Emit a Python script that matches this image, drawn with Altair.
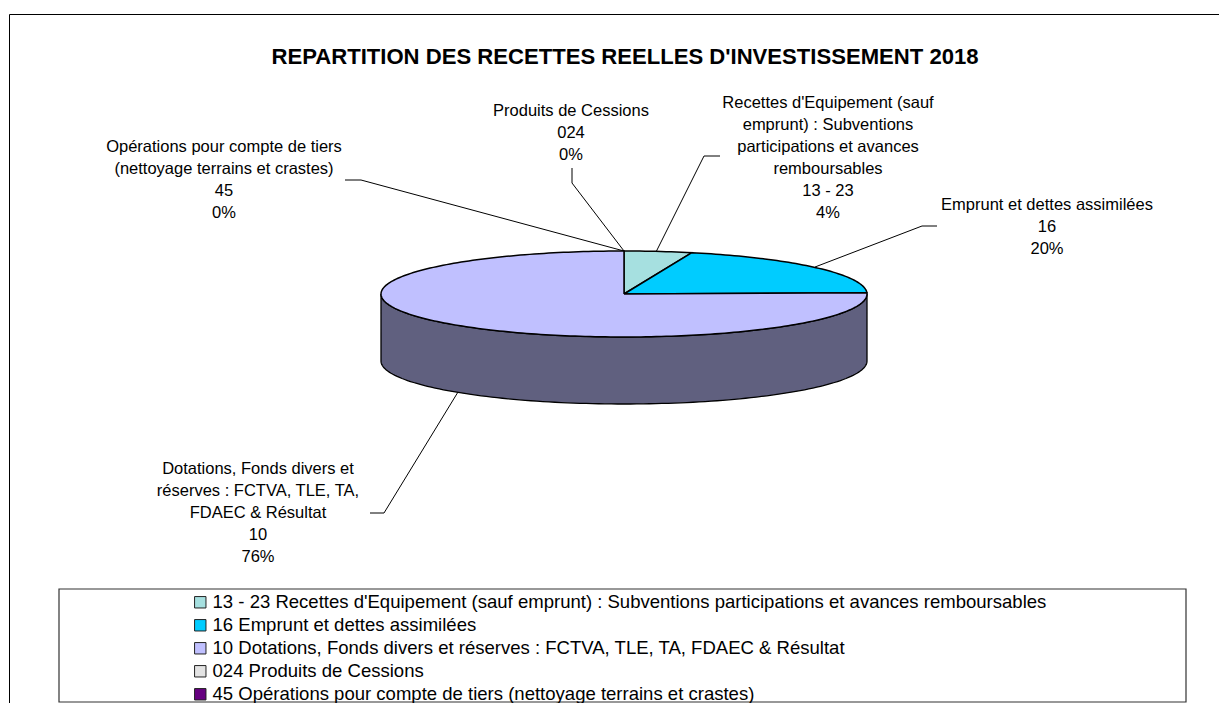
import math
import altair as alt
import pandas as pd

# ---- chart values -------------------------------------------------------
codes = ["13 - 23", "16", "10", "024", "45"]
names = [
    "Recettes d'Equipement (sauf emprunt) : Subventions participations et avances remboursables",
    "Emprunt et dettes assimilées",
    "Dotations, Fonds divers et réserves : FCTVA, TLE, TA, FDAEC & Résultat",
    "Produits de Cessions",
    "Opérations pour compte de tiers (nettoyage terrains et crastes)",
]
shares = [4.5, 20, 75.5, 0, 0]
colors = ["#A6E0E0", "#00CCFF", "#C0C0FF", "#E3E3E3", "#660080"]
side_color = "#60607F"
legend_labels = [f"{c} {n}" for c, n in zip(codes, names)]

title_text = "REPARTITION DES RECETTES REELLES D'INVESTISSEMENT 2018"
callouts = [
    (["Recettes d'Equipement (sauf", "emprunt) : Subventions", "participations et avances", "remboursables", "13 - 23", "4%"], 828, 95),
    (["Emprunt et dettes assimilées", "16", "20%"], 1047, 197),
    (["Dotations, Fonds divers et", "réserves : FCTVA, TLE, TA,", "FDAEC & Résultat", "10", "76%"], 258, 461),
    (["Produits de Cessions", "024", "0%"], 571, 103),
    (["Opérations pour compte de tiers", "(nettoyage terrains et crastes)", "45", "0%"], 224, 139),
]
leaders = [
    [(656, 252), (704, 156), (720, 156)],
    [(815, 267), (922, 226), (937, 226)],
    [(458, 392), (384, 513), (370, 513)],
    [(624, 251), (572, 183), (572, 168)],
    [(624, 251), (361, 180), (345, 180)],
]

# ---- scales: the pie is a unit circle squeezed by its x and y ranges ------
W, H = 1211, 695
CX, CY, RX, RY, DEPTH = 624 - 8, 294 - 8, 243, 43, 67
x_scale = alt.Scale(domain=[-1, 1], range=[CX - RX, CX + RX])
y_scale = alt.Scale(domain=[-1, 1], range=[CY + RY, CY - RY])
AX = dict(axis=None)

rows = []
start = 0.0
for i, (lab, s) in enumerate(zip(legend_labels, shares)):
    if s > 0:
        a0, a1 = start / 100 * 2 * math.pi, (start + s) / 100 * 2 * math.pi
        n = max(2, int(s * 3))
        rows.append(dict(slice=lab, k=0, x=0.0, y=0.0))
        for j in range(n + 1):
            a = a0 + (a1 - a0) * j / n
            rows.append(dict(slice=lab, k=j + 1, x=math.sin(a), y=math.cos(a)))
        rows.append(dict(slice=lab, k=n + 2, x=0.0, y=0.0))
    start += s
pie = pd.DataFrame(rows)

side_rows = []
d = DEPTH / RY
steps = 120
for j in range(steps + 1):
    a = math.pi * j / steps
    side_rows.append(dict(k=j, x=math.cos(a), y=-math.sin(a)))
for j in range(steps + 1):
    a = math.pi * (1 - j / steps)
    side_rows.append(dict(k=steps + 1 + j, x=math.cos(a), y=-math.sin(a) - d))
side_rows.append(dict(k=2 * steps + 2, x=1.0, y=0.0))
side = pd.DataFrame(side_rows)

ff = "Liberation Sans"

side_layer = alt.Chart(side).mark_line(fill=side_color, stroke="black", strokeWidth=1.3).encode(
    x=alt.X("x:Q", scale=x_scale, **AX), y=alt.Y("y:Q", scale=y_scale, **AX), order="k:Q")

slices = alt.Chart(pie).mark_line(stroke="black", strokeWidth=1.5, strokeJoin="miter").encode(
    x=alt.X("x:Q", scale=x_scale, **AX),
    y=alt.Y("y:Q", scale=y_scale, **AX),
    order="k:Q",
    detail="slice:N",
    fill=alt.Fill("slice:N", sort=None,
                  scale=alt.Scale(domain=legend_labels, range=colors),
                  legend=alt.Legend(
                      title=None, orient="none", legendX=183, legendY=585,
                      symbolType="square", symbolSize=130, symbolStrokeColor="#222222",
                      symbolStrokeWidth=1, labelFont=ff, labelFontSize=18.55, labelColor="black",
                      rowPadding=4, labelLimit=1100, labelOffset=3, padding=0)),
)

frame = alt.Chart(pd.DataFrame({"a": [0]})).mark_rule(stroke="black", strokeWidth=1)
frame_layers = [
    frame.encode(x=alt.value(1.5), y=alt.value(6.5), y2=alt.value(H)),
    frame.encode(x=alt.value(1.5), x2=alt.value(W), y=alt.value(6.5)),
]
box = alt.Chart(pd.DataFrame({"a": [0]})).mark_rect(fill="white", stroke="#333333", strokeWidth=1.2).encode(
    x=alt.value(59 - 8), x2=alt.value(1186 - 8), y=alt.value(589 - 8), y2=alt.value(H - 1))

leader_rows = []
for i, pts in enumerate(leaders):
    for j in range(len(pts) - 1):
        leader_rows.append(dict(x=pts[j][0] - 8, y=pts[j][1] - 8, x2=pts[j + 1][0] - 8, y2=pts[j + 1][1] - 8))
px_x = alt.Scale(domain=[0, W], range=[0, W])
px_y = alt.Scale(domain=[0, H], range=[0, H])
leader_layer = alt.Chart(pd.DataFrame(leader_rows)).mark_rule(stroke="black", strokeWidth=1).encode(
    x=alt.X("x:Q", scale=px_x, axis=None), x2="x2:Q", y=alt.Y("y:Q", scale=px_y, axis=None), y2="y2:Q")

text_rows = [dict(t=lines, x=x - 8, y=y - 8) for lines, x, y in callouts]
label_layer = alt.Chart(pd.DataFrame(text_rows)).mark_text(
    font=ff, fontSize=16.5, color="black", align="center", baseline="top", lineHeight=22
).encode(x=alt.X("x:Q", scale=px_x, axis=None), y=alt.Y("y:Q", scale=px_y, axis=None), text="t:N")

title_layer = alt.Chart(pd.DataFrame({"t": [title_text]})).mark_text(
    font=ff, fontSize=22.1, fontWeight="bold", color="black", align="center", baseline="middle"
).encode(x=alt.value(625 - 8), y=alt.value(57 - 8), text="t:N")

chart = alt.layer(
    *frame_layers, box, leader_layer, side_layer, slices, label_layer, title_layer
).resolve_scale(x="independent", y="independent").properties(
    width=W, height=H, padding=0, background="white", autosize=alt.AutoSizeParams(type="none")
).configure_view(strokeWidth=0, stroke="transparent")

chart.save("out.html", embed_options={"renderer": "svg", "actions": False})
